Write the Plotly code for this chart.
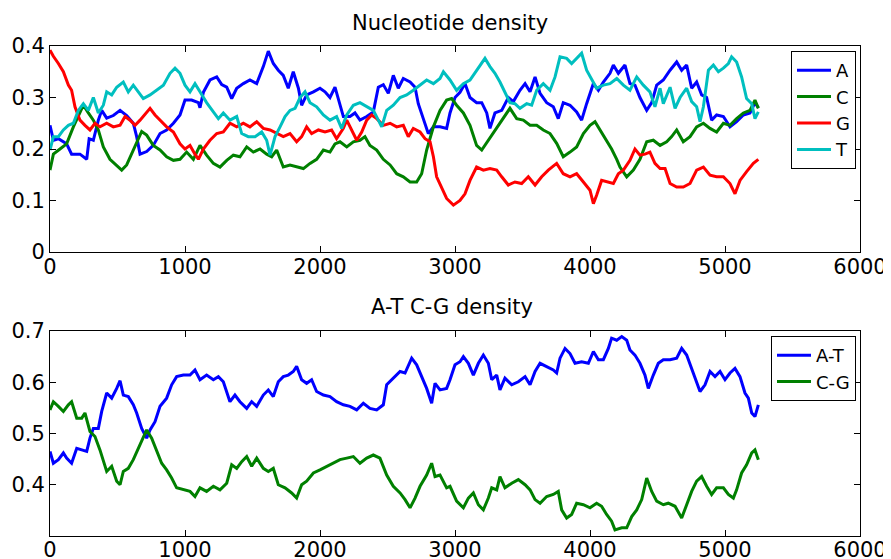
import plotly.graph_objects as go

# ---- Top panel: nucleotide density ----
A_x = [0,25,62,123,160,222,272,290,321,358,383,420,469,519,568,617,642,667,716,765,
       815,864,914,963,1000,1049,1099,1111,1136,1185,1235,1272,1309,1346,1383,1432,1481,1531,1580,1617,
       1654,1691,1728,1765,1802,1840,1864,1901,1951,2000,2037,2074,2111,2148,2173,2222,2259,2296,2346,2395,
       2432,2469,2506,2543,2580,2617,2667,2704,2728,2765,2802,2840,2889,2938,2963,3000,3037,3074,3111,3160,
       3198,3235,3259,3296,3346,3395,3432,3481,3519,3556,3593,3630,3679,3728,3765,3802,3852,3901,3938,3975,
       4025,4062,4099,4148,4173,4210,4259,4296,4333,4370,4420,4457,4494,4543,4593,4642,4679,4716,4753,4790,
       4827,4864,4901,4938,4988,5037,5086,5136,5185,5222,5247]
A_y = [0.246,0.217,0.22,0.21,0.19,0.19,0.18,0.22,0.217,0.256,
       0.275,0.26,0.265,0.275,0.265,0.25,0.224,0.19,0.195,0.207,
       0.23,0.237,0.25,0.266,0.295,0.295,0.29,0.28,0.31,0.334,
       0.34,0.325,0.32,0.298,0.318,0.327,0.334,0.327,0.36,0.39,
       0.366,0.353,0.343,0.318,0.35,0.318,0.285,0.305,0.311,0.318,
       0.311,0.30,0.32,0.285,0.263,0.263,0.27,0.256,0.263,0.272,
       0.32,0.325,0.308,0.343,0.318,0.337,0.33,0.32,0.288,0.259,
       0.23,0.243,0.243,0.24,0.27,0.30,0.31,0.327,0.30,0.29,
       0.29,0.27,0.24,0.27,0.275,0.30,0.292,0.314,0.327,0.311,
       0.34,0.308,0.29,0.282,0.259,0.29,0.285,0.272,0.256,0.288,
       0.327,0.314,0.33,0.347,0.363,0.347,0.363,0.327,0.324,0.30,
       0.275,0.29,0.324,0.334,0.353,0.369,0.353,0.363,0.318,0.33,
       0.305,0.30,0.256,0.266,0.263,0.243,0.253,0.266,0.27,0.29,
       0.28]

C_x = [0,25,74,123,173,210,247,284,321,358,395,444,494,531,568,605,642,679,716,765,
       815,864,914,963,1012,1062,1111,1160,1210,1259,1309,1358,1407,1457,1506,1556,1605,1642,1679,1728,
       1778,1827,1877,1926,1975,2025,2074,2111,2148,2198,2247,2296,2333,2370,2420,2469,2519,2568,2617,2667,
       2716,2753,2790,2840,2889,2938,2975,3012,3062,3111,3160,3198,3247,3296,3346,3407,3457,3506,3556,3605,
       3654,3704,3753,3802,3852,3901,3951,4000,4037,4074,4123,4160,4198,4222,4272,4321,4370,4420,4469,4519,
       4568,4605,4642,4691,4741,4790,4840,4889,4938,4988,5037,5086,5136,5185,5222,5247]
C_y = [0.159,0.19,0.20,0.21,0.243,0.263,0.285,0.27,0.256,0.237,
       0.204,0.18,0.169,0.159,0.169,0.19,0.214,0.234,0.227,0.207,
       0.198,0.185,0.178,0.18,0.194,0.18,0.207,0.188,0.172,0.165,
       0.178,0.188,0.185,0.204,0.194,0.20,0.19,0.185,0.198,0.165,
       0.169,0.165,0.162,0.172,0.18,0.198,0.194,0.21,0.214,0.204,
       0.214,0.217,0.224,0.207,0.198,0.18,0.169,0.152,0.146,0.136,
       0.136,0.152,0.198,0.243,0.275,0.295,0.298,0.285,0.27,0.246,
       0.207,0.198,0.217,0.237,0.256,0.279,0.259,0.256,0.246,0.246,
       0.237,0.23,0.211,0.185,0.194,0.204,0.23,0.246,0.253,0.237,
       0.214,0.20,0.18,0.165,0.146,0.159,0.18,0.214,0.217,0.207,
       0.214,0.224,0.237,0.214,0.224,0.243,0.25,0.24,0.233,0.25,
       0.246,0.259,0.27,0.275,0.295,0.279]

G_x = [0,25,62,99,136,160,185,222,259,296,333,370,420,469,519,556,593,630,667,716,
       741,778,815,864,914,963,1000,1037,1074,1099,1136,1185,1235,1284,1333,1383,1432,1481,1531,1580,
       1630,1679,1728,1778,1827,1864,1901,1938,1988,2037,2086,2123,2173,2198,2235,2272,2309,2346,2383,2420,
       2469,2519,2568,2617,2654,2691,2741,2778,2815,2840,2864,2901,2938,2988,3037,3074,3111,3160,3210,3259,
       3309,3346,3395,3444,3494,3543,3593,3642,3691,3753,3802,3852,3901,3951,4000,4025,4049,4086,4136,4173,
       4210,4247,4296,4333,4370,4407,4444,4481,4519,4556,4593,4642,4691,4741,4790,4840,4889,4938,4988,5037,
       5074,5111,5160,5210,5247]
G_y = [0.392,0.38,0.366,0.35,0.324,0.314,0.282,0.256,0.246,0.237,
       0.25,0.243,0.25,0.243,0.246,0.263,0.256,0.246,0.256,0.27,
       0.279,0.266,0.256,0.243,0.233,0.21,0.20,0.207,0.19,0.18,
       0.20,0.217,0.23,0.233,0.25,0.243,0.25,0.243,0.253,0.24,
       0.237,0.23,0.224,0.23,0.214,0.224,0.243,0.23,0.237,0.233,
       0.237,0.22,0.24,0.256,0.237,0.217,0.233,0.256,0.266,0.259,
       0.246,0.25,0.243,0.246,0.224,0.24,0.233,0.22,0.214,0.185,
       0.146,0.126,0.104,0.091,0.10,0.113,0.139,0.165,0.159,0.162,
       0.159,0.146,0.13,0.136,0.133,0.146,0.13,0.146,0.159,0.172,
       0.152,0.146,0.152,0.136,0.12,0.094,0.11,0.139,0.136,0.133,
       0.152,0.159,0.178,0.20,0.188,0.19,0.194,0.172,0.162,0.162,
       0.133,0.126,0.126,0.133,0.159,0.165,0.149,0.146,0.146,0.133,
       0.113,0.139,0.156,0.172,0.18]

T_x = [0,25,62,99,136,173,210,247,284,321,358,395,420,457,494,543,580,617,654,691,
       741,790,840,889,926,963,1000,1037,1074,1111,1160,1210,1247,1284,1333,1383,1420,1469,1519,1568,
       1605,1630,1667,1704,1741,1778,1815,1852,1889,1926,1975,2025,2074,2123,2160,2198,2247,2296,2346,2395,
       2432,2457,2494,2543,2593,2642,2691,2741,2790,2840,2889,2914,2963,3012,3062,3111,3160,3222,3259,3296,
       3333,3370,3407,3444,3481,3531,3568,3605,3654,3704,3741,3778,3827,3864,3901,3938,3975,4012,4049,4099,
       4148,4198,4247,4296,4346,4395,4444,4481,4519,4543,4593,4630,4667,4716,4753,4790,4815,4840,4877,4914,
       4951,4988,5025,5049,5086,5123,5160,5198,5222,5247]
T_y = [0.198,0.224,0.224,0.237,0.246,0.25,0.275,0.288,0.275,0.30,
       0.27,0.285,0.311,0.305,0.32,0.33,0.311,0.324,0.311,0.298,
       0.305,0.314,0.324,0.347,0.357,0.347,0.324,0.311,0.327,0.311,
       0.29,0.272,0.259,0.27,0.256,0.263,0.23,0.224,0.224,0.233,
       0.217,0.188,0.224,0.243,0.263,0.275,0.279,0.30,0.311,0.29,
       0.282,0.266,0.256,0.263,0.24,0.266,0.285,0.29,0.282,0.275,
       0.256,0.243,0.275,0.285,0.30,0.305,0.314,0.324,0.334,0.327,
       0.337,0.35,0.334,0.314,0.327,0.334,0.353,0.376,0.36,0.347,
       0.33,0.311,0.29,0.288,0.279,0.288,0.285,0.314,0.327,0.314,
       0.34,0.379,0.376,0.366,0.376,0.386,0.353,0.334,0.318,0.324,
       0.327,0.337,0.324,0.314,0.34,0.324,0.311,0.282,0.318,0.288,
       0.32,0.279,0.30,0.318,0.292,0.282,0.253,0.282,0.353,0.363,
       0.35,0.357,0.366,0.379,0.369,0.34,0.298,0.288,0.259,0.272]

# ---- Bottom panel: A-T / C-G density ----
AT_x = [0,25,62,99,123,160,198,235,272,296,321,358,383,420,457,494,519,543,580,617,
        642,679,716,741,778,815,864,901,938,988,1037,1074,1111,1160,1210,1247,1284,1333,1370,1407,
        1457,1494,1531,1580,1617,1654,1691,1728,1765,1802,1827,1864,1901,1938,1975,2025,2074,2123,2173,2222,
        2272,2321,2370,2420,2469,2494,2543,2593,2630,2679,2716,2753,2790,2827,2852,2889,2938,2963,3000,3037,
        3062,3099,3136,3173,3210,3247,3272,3309,3333,3370,3420,3469,3519,3556,3593,3630,3679,3728,3753,3778,
        3815,3852,3889,3938,3988,4025,4062,4099,4136,4160,4198,4235,4272,4296,4333,4370,4407,4432,4469,4506,
        4543,4593,4642,4679,4716,4753,4790,4815,4852,4889,4926,4963,5000,5037,5074,5111,5148,5173,5198,5222,
        5247]
AT_y = [0.465,0.442,0.449,0.462,0.452,0.442,0.471,0.468,0.465,0.491,
        0.51,0.51,0.543,0.579,0.569,0.588,0.603,0.575,0.572,0.556,
        0.54,0.51,0.491,0.507,0.523,0.553,0.569,0.595,0.611,0.614,
        0.614,0.624,0.605,0.614,0.605,0.611,0.601,0.562,0.575,0.562,
        0.549,0.562,0.553,0.575,0.585,0.572,0.601,0.611,0.614,0.621,
        0.631,0.605,0.598,0.605,0.582,0.575,0.572,0.562,0.556,0.553,
        0.546,0.559,0.549,0.546,0.556,0.595,0.608,0.621,0.618,0.647,
        0.634,0.611,0.588,0.559,0.598,0.585,0.588,0.605,0.634,0.64,
        0.65,0.637,0.614,0.637,0.653,0.637,0.605,0.614,0.585,0.608,
        0.595,0.601,0.611,0.595,0.621,0.637,0.631,0.624,0.618,0.647,
        0.666,0.656,0.637,0.64,0.637,0.66,0.644,0.644,0.666,0.686,
        0.682,0.689,0.682,0.663,0.653,0.637,0.614,0.588,0.614,0.637,
        0.644,0.644,0.647,0.666,0.653,0.627,0.601,0.582,0.595,0.621,
        0.611,0.621,0.605,0.618,0.627,0.611,0.579,0.569,0.54,0.533,
        0.556]

CG_x = [0,25,62,99,136,160,198,235,259,296,333,370,420,457,494,519,543,580,617,654,
        691,716,753,790,827,864,901,938,988,1037,1074,1111,1160,1210,1259,1309,1346,1383,1420,1457,
        1494,1531,1580,1617,1654,1691,1741,1790,1827,1864,1901,1951,2000,2049,2099,2148,2198,2247,2296,2346,
        2395,2444,2494,2543,2593,2630,2667,2704,2741,2790,2827,2852,2889,2938,2963,3012,3062,3099,3136,3173,
        3210,3247,3272,3309,3333,3370,3420,3469,3519,3556,3593,3630,3679,3728,3765,3790,3827,3864,3901,3951,
        4000,4049,4086,4123,4160,4185,4235,4272,4309,4346,4383,4420,4457,4494,4543,4580,4630,4679,4716,4753,
        4790,4827,4864,4901,4938,4988,5025,5062,5086,5123,5160,5198,5222,5247]
CG_y = [0.546,0.562,0.553,0.543,0.556,0.562,0.53,0.53,0.54,0.504,
        0.494,0.468,0.426,0.436,0.407,0.40,0.426,0.432,0.449,0.471,
        0.491,0.507,0.491,0.468,0.442,0.429,0.413,0.394,0.39,0.387,
        0.377,0.394,0.387,0.397,0.39,0.403,0.439,0.432,0.445,0.455,
        0.436,0.452,0.432,0.426,0.432,0.40,0.394,0.384,0.374,0.40,
        0.407,0.423,0.429,0.436,0.442,0.449,0.452,0.455,0.442,0.452,
        0.458,0.452,0.419,0.397,0.384,0.371,0.355,0.374,0.397,0.419,
        0.442,0.416,0.419,0.394,0.397,0.368,0.355,0.374,0.384,0.361,
        0.351,0.374,0.394,0.39,0.416,0.394,0.403,0.41,0.40,0.39,
        0.371,0.364,0.377,0.381,0.387,0.351,0.335,0.342,0.364,0.361,
        0.355,0.364,0.358,0.342,0.329,0.312,0.316,0.316,0.338,0.351,
        0.371,0.413,0.387,0.368,0.361,0.364,0.358,0.335,0.361,0.387,
        0.407,0.416,0.397,0.381,0.394,0.394,0.381,0.374,0.39,0.423,
        0.439,0.462,0.468,0.449]

X_TICKS = [0, 1000, 2000, 3000, 4000, 5000, 6000]
TOP_Y_TICKS = [0, 0.1, 0.2, 0.3, 0.4]
BOT_Y_TICKS = [0.4, 0.5, 0.6, 0.7]

for xs, ys in [(A_x, A_y), (C_x, C_y), (G_x, G_y), (T_x, T_y), (AT_x, AT_y), (CG_x, CG_y)]:
    assert len(xs) == len(ys), (len(xs), len(ys))

W, H = 891, 559
OFF = 8  # page body margin offsets the figure by 8px
FONT = "DejaVu Sans"
FS = 21
LFS = 18

def px_x(p):
    return (p - OFF) / W

def px_y(p):
    return 1 - (p - OFF) / H

fig = go.Figure()
top = [("A", A_x, A_y, "#0000FF"), ("C", C_x, C_y, "#008000"),
       ("G", G_x, G_y, "#FF0000"), ("T", T_x, T_y, "#00BFBF")]
for name, xs, ys, col in top:
    fig.add_trace(go.Scatter(x=xs, y=ys, mode="lines", name=name,
                             line=dict(color=col, width=3), xaxis="x", yaxis="y",
                             legend="legend"))
bot = [("A-T", AT_x, AT_y, "#0000FF"), ("C-G", CG_x, CG_y, "#008000")]
for name, xs, ys, col in bot:
    fig.add_trace(go.Scatter(x=xs, y=ys, mode="lines", name=name,
                             line=dict(color=col, width=3), xaxis="x2", yaxis="y2",
                             legend="legend2"))
# empty helper traces so the label-only x axes get drawn
fig.add_trace(go.Scatter(x=[], y=[], xaxis="x3", yaxis="y", showlegend=False, hoverinfo="skip"))
fig.add_trace(go.Scatter(x=[], y=[], xaxis="x4", yaxis="y2", showlegend=False, hoverinfo="skip"))

axis_common = dict(showline=True, linecolor="black", linewidth=1, mirror="ticks",
                   ticks="inside", ticklen=6, tickcolor="black", tickwidth=1,
                   showgrid=False, zeroline=False, automargin=False,
                   tickfont=dict(family=FONT, size=FS, color="black"))
label_axis = dict(range=[0, 6000], tickvals=X_TICKS, showline=False, ticks="",
                  showgrid=False, zeroline=False, automargin=False,
                  tickfont=dict(family=FONT, size=FS, color="black"))

xdom = [px_x(50), px_x(860)]
fig.update_layout(
    template="none",
    width=W, height=H,
    margin=dict(l=0, r=0, t=0, b=0, pad=0),
    paper_bgcolor="white", plot_bgcolor="white",
    font=dict(family=FONT, size=FS, color="black"),
    xaxis=dict(domain=xdom, range=[0, 6000], tickvals=X_TICKS, anchor="y",
               showticklabels=False, **axis_common),
    yaxis=dict(domain=[px_y(252), px_y(46)], range=[0, 0.4], tickvals=TOP_Y_TICKS,
               ticktext=["0", "0.1", "0.2", "0.3", "0.4"], anchor="x", **axis_common),
    xaxis2=dict(domain=xdom, range=[0, 6000], tickvals=X_TICKS, anchor="y2",
                showticklabels=False, **axis_common),
    yaxis2=dict(domain=[px_y(536), px_y(331)], range=[0.3, 0.7], tickvals=BOT_Y_TICKS,
                anchor="x2", **axis_common),
    xaxis3=dict(overlaying="x", anchor="free", position=px_y(252), **label_axis),
    xaxis4=dict(overlaying="x2", anchor="free", position=px_y(535), **label_axis),
    legend=dict(x=px_x(856), y=px_y(51), xanchor="right", yanchor="top",
                bordercolor="black", borderwidth=1, bgcolor="white",
                font=dict(family=FONT, size=LFS, color="black"),
                itemwidth=34, tracegroupgap=0),
    legend2=dict(x=px_x(856), y=px_y(336), xanchor="right", yanchor="top",
                 bordercolor="black", borderwidth=1, bgcolor="white",
                 font=dict(family=FONT, size=LFS, color="black"),
                 itemwidth=34, tracegroupgap=0),
    annotations=[
        dict(text="Nucleotide density", x=px_x(450), y=px_y(23), xref="paper", yref="paper",
             showarrow=False, xanchor="center", yanchor="middle",
             font=dict(family=FONT, size=FS, color="black")),
        dict(text="A-T C-G density", x=px_x(452), y=px_y(307), xref="paper", yref="paper",
             showarrow=False, xanchor="center", yanchor="middle",
             font=dict(family=FONT, size=FS, color="black")),
    ],
    showlegend=True,
)

fig.write_html("out.html")
